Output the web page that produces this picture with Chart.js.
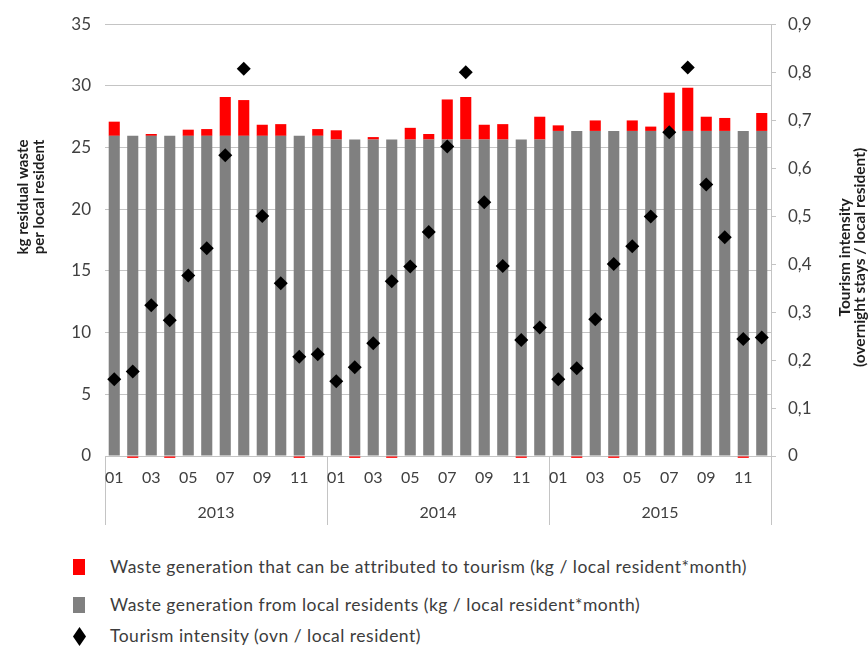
<!DOCTYPE html>
<html>
<head>
<meta charset="utf-8">
<script src="https://cdn.jsdelivr.net/npm/chart.js@4.4.1/dist/chart.umd.min.js"></script>
<style>
  body { margin: 0; background: #fff; font-family: Lato, "Open Sans", sans-serif; }
  #wrap { position: relative; width: 868px; height: 650px; }
  #box { position: absolute; left: 0; top: 0; width: 868px; height: 540px; }
  .item { position: absolute; left: 110px; font-size: 17.5px; letter-spacing: 0.5px; color: #3c3c3c; line-height: 20px; white-space: nowrap; }
  .swatch { position: absolute; left: 73px; width: 12px; height: 16px; }
</style>
</head>
<body>
<div id="wrap">
  <div id="box"><canvas id="chart"></canvas></div>
  <div class="swatch" style="top:559px;background:#ff0000"></div>
  <div class="item" style="top:557px">Waste generation that can be attributed to tourism (kg / local resident*month)</div>
  <div class="swatch" style="top:597px;background:#808080"></div>
  <div class="item" style="top:595px">Waste generation from local residents (kg / local resident*month)</div>
  <svg style="position:absolute;left:73px;top:627px" width="13" height="19"><polygon points="6.5,0 13,9.5 6.5,19 0,9.5" fill="#000"/></svg>
  <div class="item" style="top:626px">Tourism intensity (ovn / local resident)</div>
</div>
<script>
const years = ["2013", "2014", "2015"];
const months = ["01", "02", "03", "04", "05", "06", "07", "08", "09", "10", "11", "12"];

// kg per local resident and month
const localWaste = [
  25.95, 25.95, 25.95, 25.95, 25.95, 25.95, 25.95, 25.95, 25.95, 25.95, 25.95, 25.95,
  25.65, 25.65, 25.65, 25.65, 25.65, 25.65, 25.65, 25.65, 25.65, 25.65, 25.65, 25.65,
  26.35, 26.35, 26.35, 26.35, 26.35, 26.35, 26.35, 26.35, 26.35, 26.35, 26.35, 26.35
];
const tourismWaste = [
  1.15, -0.15, 0.15, -0.15, 0.5, 0.55, 3.15, 2.9, 0.9, 0.95, -0.15, 0.55,
  0.75, -0.15, 0.2, -0.15, 0.95, 0.45, 3.25, 3.45, 1.2, 1.25, -0.15, 1.85,
  0.45, -0.15, 0.85, -0.15, 0.85, 0.35, 3.1, 3.5, 1.15, 1.05, -0.15, 1.45
];
// overnight stays per local resident
const tourismIntensity = [
  0.16, 0.176, 0.314, 0.283, 0.376, 0.433, 0.627, 0.807, 0.50, 0.36, 0.207, 0.212,
  0.156, 0.185, 0.235, 0.364, 0.395, 0.467, 0.645, 0.80, 0.529, 0.396, 0.242, 0.268,
  0.16, 0.183, 0.285, 0.40, 0.437, 0.499, 0.675, 0.81, 0.566, 0.456, 0.244, 0.247
];

const categories = years.flatMap(y => months.map(m => y + "-" + m));

const gridGray = "#c4c4c4";
const textGray = "#404040";
const font = "Lato";

// axis titles drawn rotated bottom-to-top on both sides
const axisTitles = {
  id: "axisTitles",
  afterDraw(chart) {
    const ctx = chart.ctx;
    const area = chart.chartArea;
    const h = area.bottom - area.top;
    ctx.save();
    ctx.fillStyle = "#1e1e1e";
    ctx.textAlign = "center";
    ctx.textBaseline = "middle";

    ctx.font = "bold 15px " + font;
    ctx.save();
    ctx.translate(23, area.top + h * 0.4);
    ctx.rotate(-Math.PI / 2);
    ctx.fillText("kg residual waste", 0, 0);
    ctx.fillText("per local resident", 0, 16);
    ctx.restore();

    ctx.font = "bold 15.5px " + font;
    ctx.save();
    ctx.translate(845, area.top + h * 0.54);
    ctx.rotate(-Math.PI / 2);
    ctx.fillText("Tourism intensity", 0, 0);
    ctx.fillText("(overnight stays / local resident)", 0, 15);
    ctx.restore();

    ctx.restore();
  }
};

Chart.defaults.font.family = font;
Chart.defaults.color = textGray;

new Chart(document.getElementById("chart"), {
  type: "bar",
  data: {
    labels: categories,
    datasets: [
      {
        type: "line",
        label: "Tourism intensity (ovn / local resident)",
        data: tourismIntensity,
        yAxisID: "y1",
        showLine: false,
        pointStyle: "rectRot",
        pointRadius: 7,
        pointBackgroundColor: "#000",
        pointBorderColor: "#000",
        pointBorderWidth: 0,
        order: 0
      },
      {
        label: "Waste generation from local residents (kg / local resident*month)",
        data: localWaste,
        backgroundColor: "#808080",
        yAxisID: "y",
        barPercentage: 0.6,
        categoryPercentage: 1,
        order: 1
      },
      {
        label: "Waste generation that can be attributed to tourism (kg / local resident*month)",
        data: tourismWaste,
        backgroundColor: "#ff0000",
        yAxisID: "y",
        barPercentage: 0.6,
        categoryPercentage: 1,
        clip: false,
        order: 1
      }
    ]
  },
  options: {
    responsive: true,
    maintainAspectRatio: false,
    animation: false,
    layout: { padding: { top: 19, bottom: 10, left: 0, right: 0 } },
    plugins: {
      legend: { display: false },
      tooltip: { enabled: false }
    },
    scales: {
      x: {
        stacked: true,
        offset: true,
        grid: {
          offset: true,
          drawOnChartArea: false,
          tickLength: 34,
          color: c => (c.index === undefined || c.index % 12 === 0) ? gridGray : "rgba(0,0,0,0)"
        },
        border: { display: true, color: gridGray },
        ticks: {
          autoSkip: false,
          maxRotation: 0,
          padding: -22,
          font: { size: 16 },
          callback: (v, i) => i % 2 === 0 ? categories[i].slice(5) : ""
        },
        afterFit: s => { s.height = 34; }
      },
      x2: {
        type: "category",
        labels: years,
        position: "bottom",
        offset: true,
        grid: { offset: true, drawOnChartArea: false, tickLength: 35, color: gridGray },
        border: { display: false },
        ticks: { padding: -22, font: { size: 16 } },
        afterFit: s => { s.height = 40; }
      },
      y: {
        stacked: true,
        min: 0,
        max: 35,
        ticks: { stepSize: 5, padding: 14, font: { size: 17 } },
        grid: { color: gridGray, drawTicks: false },
        border: { display: false },
        afterFit: s => { s.width = 105; }
      },
      y1: {
        position: "right",
        min: 0,
        max: 0.9,
        ticks: {
          stepSize: 0.1,
          padding: 12,
          font: { size: 17 },
          callback: v => v === 0 ? "0" : v.toFixed(1).replace(".", ",")
        },
        grid: { drawOnChartArea: false, tickLength: 5, color: gridGray },
        border: { display: true, color: gridGray },
        afterFit: s => { s.width = 97; }
      }
    }
  },
  plugins: [axisTitles]
});
</script>
</body>
</html>
